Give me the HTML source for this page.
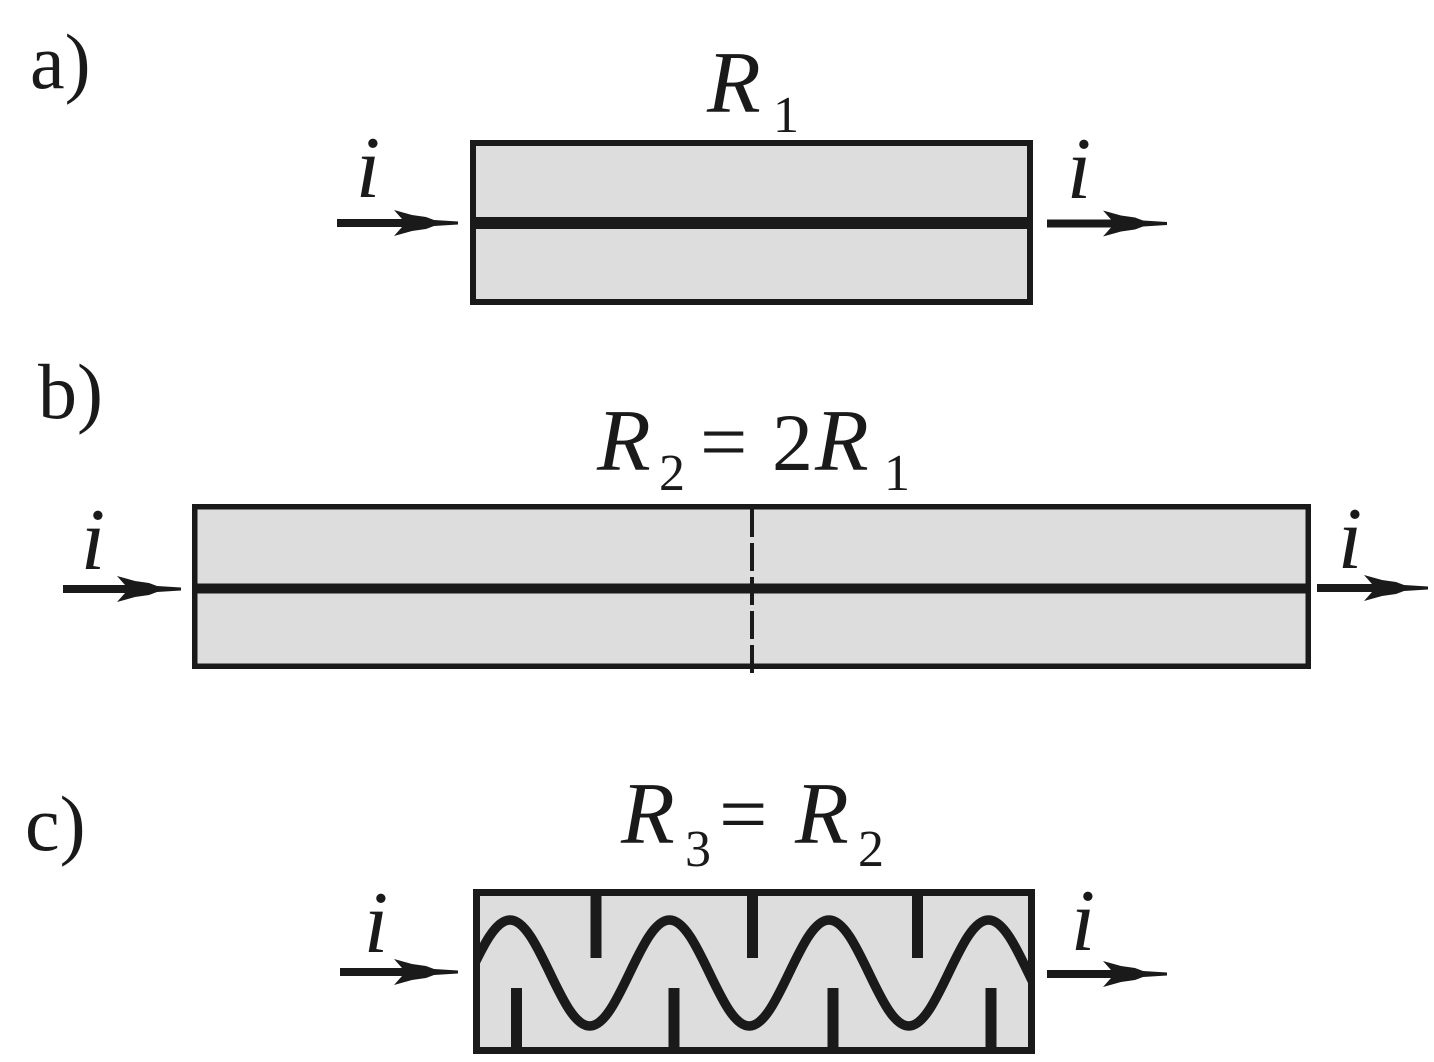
<!DOCTYPE html>
<html>
<head>
<meta charset="utf-8">
<style>
  html, body { margin:0; padding:0; background:#ffffff; }
  body { width:1434px; height:1062px; overflow:hidden; }
  svg { display:block; }
  .it { font-family:"Liberation Serif", "Times New Roman", Times, serif; font-style:italic; fill:#1a1a1a; }
  .up { font-family:"Liberation Serif", "Times New Roman", Times, serif; font-style:normal; fill:#1a1a1a; }
</style>
</head>
<body>
<svg width="1434" height="1062" viewBox="0 0 1434 1062" xmlns="http://www.w3.org/2000/svg">
  <defs>
    <clipPath id="cbox"><rect x="473" y="889" width="562" height="165"/></clipPath>
  </defs>

  <!-- panel labels -->
  <text class="up" x="30" y="88" font-size="78">a)</text>
  <text class="up" x="38" y="418" font-size="78">b)</text>
  <text class="up" x="25" y="850" font-size="78">c)</text>

  <!-- ===== a) ===== -->
  <text class="it" x="707" y="112" font-size="88">R</text>
  <text class="up" x="773" y="132" font-size="52">1</text>

  <rect x="473" y="143" width="557" height="159" fill="#dddddd" stroke="#1a1a1a" stroke-width="6"/>
  <rect x="470" y="217" width="563" height="12" fill="#1a1a1a"/>

  <text class="it" x="368" y="197" font-size="88" text-anchor="middle">i</text>
  <text class="it" x="1079" y="198" font-size="88" text-anchor="middle">i</text>

  <g fill="#1a1a1a" transform="translate(458,223)">
    <rect x="-121" y="-4" width="65" height="8"/>
    <polygon points="-64,-13 -46,-8 -32,-6 -24,-3 0,-1.5 0,1.5 -24,3 -32,6 -46,8 -64,13 -56,4 -56,-4"/>
  </g>
  <g fill="#1a1a1a" transform="translate(1167,223.5)">
    <rect x="-120" y="-4" width="64" height="8"/>
    <polygon points="-64,-13 -46,-8 -32,-6 -24,-3 0,-1.5 0,1.5 -24,3 -32,6 -46,8 -64,13 -56,4 -56,-4"/>
  </g>

  <!-- ===== b) ===== -->
  <text class="it" x="597" y="470" font-size="88">R</text>
  <text class="up" x="659" y="490" font-size="52">2</text>
  <text class="up" x="700" y="470" font-size="84">=</text>
  <text class="up" x="772" y="470" font-size="82">2</text>
  <text class="it" x="815" y="470" font-size="88">R</text>
  <text class="up" x="884" y="490" font-size="52">1</text>

  <rect x="194.75" y="506.75" width="1113.5" height="159.5" fill="#dddddd" stroke="#1a1a1a" stroke-width="5.5"/>
  <rect x="192" y="583.5" width="1119" height="10" fill="#1a1a1a"/>
  <line x1="752" y1="509" x2="752" y2="677" stroke="#1a1a1a" stroke-width="4" stroke-dasharray="28 6"/>

  <text class="it" x="93" y="569" font-size="88" text-anchor="middle">i</text>
  <text class="it" x="1350" y="568" font-size="88" text-anchor="middle">i</text>

  <g fill="#1a1a1a" transform="translate(181,589)">
    <rect x="-118" y="-4" width="62" height="8"/>
    <polygon points="-64,-13 -46,-8 -32,-6 -24,-3 0,-1.5 0,1.5 -24,3 -32,6 -46,8 -64,13 -56,4 -56,-4"/>
  </g>
  <g fill="#1a1a1a" transform="translate(1428,588)">
    <rect x="-111" y="-4" width="55" height="8"/>
    <polygon points="-64,-13 -46,-8 -32,-6 -24,-3 0,-1.5 0,1.5 -24,3 -32,6 -46,8 -64,13 -56,4 -56,-4"/>
  </g>

  <!-- ===== c) ===== -->
  <text class="it" x="621" y="843" font-size="88">R</text>
  <text class="up" x="685" y="866" font-size="52">3</text>
  <text class="up" x="719" y="843" font-size="86">=</text>
  <text class="it" x="795" y="843" font-size="88">R</text>
  <text class="up" x="858" y="866" font-size="52">2</text>

  <rect x="476.5" y="892.5" width="555" height="158" fill="#dddddd"/>
  <g clip-path="url(#cbox)">
    <path d="M350.5,920 C379.5,920 401.25,1026 430.25,1026 C459.25,1026 481,920 510,920 C539,920 560.75,1026 589.75,1026 C618.75,1026 640.5,920 669.5,920 C698.5,920 720.25,1026 749.25,1026 C778.25,1026 800,920 829,920 C858,920 879.75,1026 908.75,1026 C937.75,1026 959.5,920 988.5,920 C1017.5,920 1039.25,1026 1068.25,1026"
          fill="none" stroke="#1a1a1a" stroke-width="9.5"/>
  </g>
  <!-- teeth -->
  <g fill="#1a1a1a">
    <rect x="590.5" y="889" width="11" height="69"/>
    <rect x="747" y="889" width="11" height="69"/>
    <rect x="912" y="889" width="11" height="69"/>
    <rect x="511" y="988" width="11" height="66"/>
    <rect x="668.5" y="988" width="11" height="66"/>
    <rect x="827.5" y="988" width="11" height="66"/>
    <rect x="985.5" y="988" width="11" height="66"/>
  </g>
  <rect x="476.5" y="892.5" width="555" height="158" fill="none" stroke="#1a1a1a" stroke-width="7"/>

  <text class="it" x="376" y="952" font-size="88" text-anchor="middle">i</text>
  <text class="it" x="1083" y="950" font-size="88" text-anchor="middle">i</text>

  <g fill="#1a1a1a" transform="translate(458,972)">
    <rect x="-118" y="-4" width="62" height="8"/>
    <polygon points="-64,-13 -46,-8 -32,-6 -24,-3 0,-1.5 0,1.5 -24,3 -32,6 -46,8 -64,13 -56,4 -56,-4"/>
  </g>
  <g fill="#1a1a1a" transform="translate(1167,974)">
    <rect x="-120" y="-4" width="64" height="8"/>
    <polygon points="-64,-13 -46,-8 -32,-6 -24,-3 0,-1.5 0,1.5 -24,3 -32,6 -46,8 -64,13 -56,4 -56,-4"/>
  </g>
</svg>
</body>
</html>
